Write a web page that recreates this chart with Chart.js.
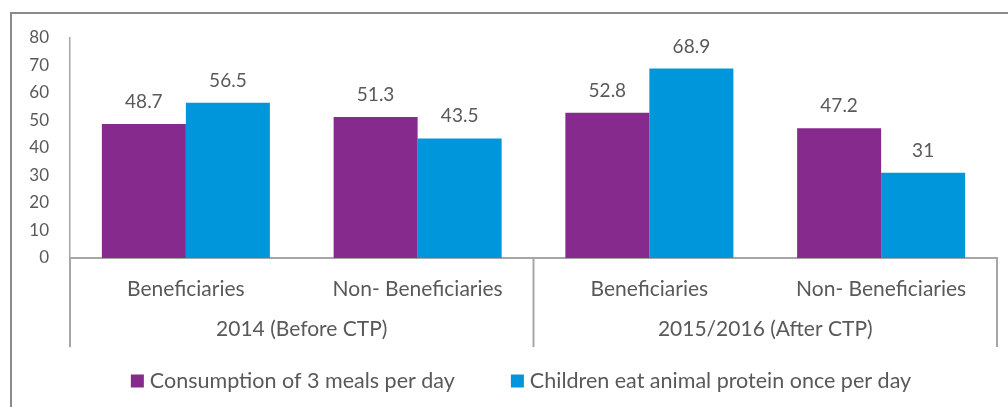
<!DOCTYPE html>
<html>
<head>
<meta charset="utf-8">
<script src="https://cdn.jsdelivr.net/npm/chart.js@4.4.1/dist/chart.umd.min.js"></script>
<style>
  html, body { margin: 0; padding: 0; background: #ffffff; width: 1008px; height: 407px; overflow: hidden; }
  #frame { position: absolute; left: 10px; top: 12px; width: 1200px; height: 600px;
           border-top: 2px solid #8a8a8a; border-left: 2px solid #8a8a8a; }
  #wrap { position: absolute; left: 0; top: 0; width: 1008px; height: 407px; }
</style>
</head>
<body>
<div id="frame"></div>
<div id="wrap"><canvas id="chart" width="1008" height="407"></canvas></div>
<script>
// ---- data ----
const categories = ["Beneficiaries", "Non- Beneficiaries", "Beneficiaries", "Non- Beneficiaries"];
const groups = ["2014 (Before CTP)", "2015/2016 (After CTP)"];
const seriesNames = ["Consumption of 3 meals per day", "Children eat animal protein once per day"];
const mealsValues = [48.7, 51.3, 52.8, 47.2];
const proteinValues = [56.5, 43.5, 68.9, 31];
const yTickValues = [0, 10, 20, 30, 40, 50, 60, 70, 80];

// ---- styles ----
const FONT = "Lato, 'Open Sans', sans-serif";
const TEXT = "#595959";
const AXIS = "#a6a6a6";
const PURPLE = "#862a8d";
const BLUE = "#0096db";

const valueLabels = {
  id: "valueLabels",
  afterDatasetsDraw(chart) {
    const ctx = chart.ctx;
    ctx.save();
    ctx.font = "19px " + FONT;
    ctx.fillStyle = TEXT;
    ctx.textAlign = "center";
    ctx.textBaseline = "alphabetic";
    chart.data.datasets.forEach((ds, i) => {
      chart.getDatasetMeta(i).data.forEach((bar, j) => {
        ctx.fillText(String(ds.data[j]), bar.x, bar.y - 16);
      });
    });
    ctx.restore();
  }
};

const groupSeparators = {
  id: "groupSeparators",
  afterDraw(chart) {
    const x = chart.scales.x, x2 = chart.scales.x2;
    const ctx = chart.ctx;
    const mid = (x.getPixelForTick(1) + x.getPixelForTick(2)) / 2;
    ctx.save();
    ctx.strokeStyle = AXIS;
    ctx.lineWidth = 2;
    [x.left, mid, x.right].forEach(px => {
      ctx.beginPath();
      ctx.moveTo(px, x.top);
      ctx.lineTo(px, x2.bottom);
      ctx.stroke();
    });
    ctx.restore();
  }
};

const seriesLegend = {
  id: "seriesLegend",
  afterDraw(chart) {
    const ctx = chart.ctx;
    const x2 = chart.scales.x2;
    ctx.save();
    ctx.font = "21.5px " + FONT;
    ctx.textBaseline = "middle";
    ctx.textAlign = "left";
    const box = 13, gapBoxText = 6, gapItems = 56;
    const items = chart.data.datasets.map(ds => ({
      text: ds.label, color: ds.backgroundColor, w: ctx.measureText(ds.label).width
    }));
    const total = items.reduce((s, it) => s + box + gapBoxText + it.w, 0) + gapItems * (items.length - 1);
    let cx = chart.width / 2 + 17 - total / 2;
    const cy = x2.bottom + 34;
    items.forEach(it => {
      ctx.fillStyle = it.color;
      ctx.fillRect(cx, cy - box / 2, box, box);
      ctx.fillStyle = TEXT;
      ctx.fillText(it.text, cx + box + gapBoxText, cy);
      cx += box + gapBoxText + it.w + gapItems;
    });
    ctx.restore();
  }
};

new Chart(document.getElementById("chart"), {
  type: "bar",
  data: {
    labels: categories,
    datasets: [
      { label: seriesNames[0], data: mealsValues, backgroundColor: PURPLE, borderWidth: 0 },
      { label: seriesNames[1], data: proteinValues, backgroundColor: BLUE, borderWidth: 0 }
    ]
  },
  options: {
    responsive: false,
    animation: false,
    devicePixelRatio: 1,
    datasets: { bar: { categoryPercentage: 0.725, barPercentage: 1.0 } },
    layout: { padding: { left: 10, right: 11, top: 38, bottom: 60 } },
    plugins: { legend: { display: false }, tooltip: { enabled: false } },
    scales: {
      x: {
        type: "category",
        offset: true,
        grid: { display: false, drawTicks: false },
        border: { display: true, color: AXIS, width: 2 },
        ticks: { color: TEXT, font: { family: FONT, size: 21 }, padding: 19, maxRotation: 0, autoSkip: false },
        afterFit(s) { s.height = 52; }
      },
      x2: {
        type: "category",
        labels: groups,
        position: "bottom",
        offset: true,
        grid: { display: false, drawTicks: false },
        border: { display: false },
        ticks: { color: TEXT, font: { family: FONT, size: 21 }, padding: 7, maxRotation: 0, autoSkip: false },
        afterFit(s) { s.height = 37; }
      },
      y: {
        min: 0, max: 80,
        grid: { display: false, drawTicks: false },
        border: { display: true, color: AXIS, width: 1.5 },
        ticks: { color: TEXT, font: { family: FONT, size: 17 }, padding: 21 },
        afterBuildTicks(s) { s.ticks = yTickValues.map(v => ({ value: v })); },
        afterFit(s) { s.width = 60; }
      }
    }
  },
  plugins: [valueLabels, groupSeparators, seriesLegend]
});
</script>
</body>
</html>
